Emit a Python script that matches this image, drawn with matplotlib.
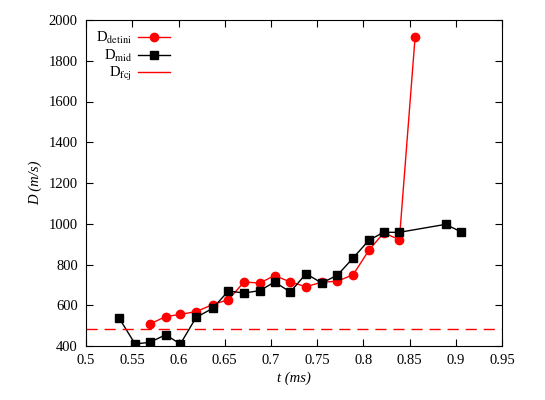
import numpy as np
import matplotlib.pyplot as plt
from matplotlib.lines import Line2D

plt.rcParams['font.family'] = ['Liberation Serif', 'DejaVu Serif']
plt.rcParams['mathtext.fontset'] = 'stix'

# data
red_t = [0.569, 0.586, 0.602, 0.619, 0.637, 0.654, 0.671, 0.688, 0.704, 0.721,
         0.738, 0.755, 0.772, 0.789, 0.806, 0.822, 0.839, 0.856]
red_D = [508, 544, 555, 569, 603, 628, 714, 709, 746, 714,
         691, 713, 718, 750, 870, 955, 922, 1915]

black_t = [0.536, 0.553, 0.569, 0.586, 0.602, 0.619, 0.637, 0.654, 0.671, 0.688,
           0.704, 0.721, 0.738, 0.755, 0.772, 0.789, 0.806, 0.822, 0.839, 0.889, 0.906]
black_D = [535, 410, 418, 455, 410, 540, 585, 670, 660, 672,
           714, 665, 755, 709, 748, 832, 919, 958, 958, 997, 960]

D_fcj = 485

fig = plt.figure(figsize=(5.45, 4.0), dpi=100)
ax = fig.add_axes([0.158, 0.135, 0.763, 0.815])

l1, = ax.plot(red_t, red_D, '-o', color='#ff0000', lw=1, ms=6)
l2, = ax.plot(black_t, black_D, '-s', color='black', lw=1, ms=6)
ax.axhline(D_fcj, color='#ff0000', lw=1, ls=(0, (8, 5)))
# the dash in the legend looks like one solid stroke
l3 = Line2D([], [], color='#ff0000', lw=1)

ax.set_xlim(0.5, 0.95)
ax.set_ylim(400, 2000)
ax.set_xticks(np.arange(0.5, 0.951, 0.05))
ax.set_xticklabels(['0.5', '0.55', '0.6', '0.65', '0.7', '0.75', '0.8', '0.85', '0.9', '0.95'])
ax.set_yticks(np.arange(400, 2001, 200))
ax.tick_params(direction='in', top=True, right=True, labelsize=10.5, length=5, pad=6)

ax.set_xlabel('t (ms)', style='italic', fontsize=10.5, labelpad=3)
ax.set_ylabel('D (m/s)', style='italic', fontsize=10.5, labelpad=5)

ax.legend([l1, l2, l3],
          [r'D$_{\mathrm{detini}}$', r'D$_{\mathrm{mid}}$', r'D$_{\mathrm{fcj}}$'],
          loc='upper left', frameon=False, markerfirst=False, fontsize=10.5,
          handlelength=2.2, handletextpad=0.4, labelspacing=0.1, borderaxespad=0.3)

fig.savefig('out.png', dpi=100)
